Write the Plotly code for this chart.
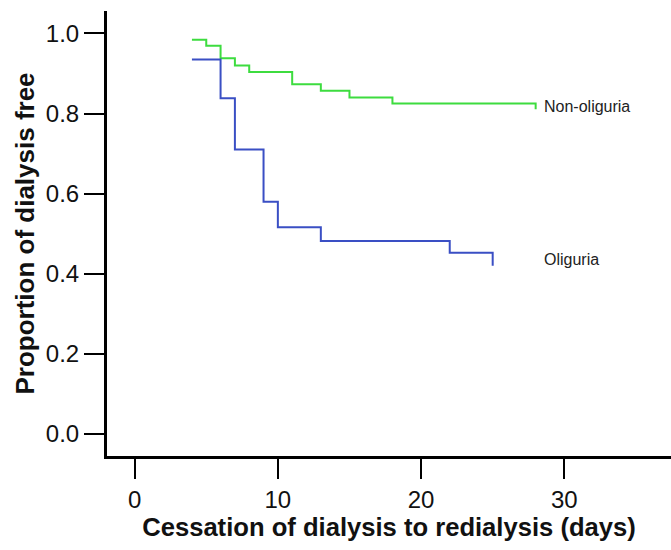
import plotly.graph_objects as go

# Kaplan-Meier step data (days, proportion)
non_oliguria_days = [4, 5, 6, 7, 8, 11, 13, 15, 18, 28]
non_oliguria_prop = [0.984, 0.969, 0.938, 0.92, 0.904, 0.873, 0.857, 0.84, 0.825, 0.811]

oliguria_days = [4, 6, 7, 9, 10, 13, 22, 25]
oliguria_prop = [0.935, 0.838, 0.71, 0.58, 0.516, 0.482, 0.4525, 0.42]

x_ticks = [0, 10, 20, 30]
y_ticks = [0.0, 0.2, 0.4, 0.6, 0.8, 1.0]

FONT = "Liberation Sans, Arial, sans-serif"

fig = go.Figure()
fig.add_trace(go.Scatter(x=non_oliguria_days, y=non_oliguria_prop, mode="lines",
                         line=dict(shape="hv", color="#3ddc3f", width=2), showlegend=False))
fig.add_trace(go.Scatter(x=oliguria_days, y=oliguria_prop, mode="lines",
                         line=dict(shape="hv", color="#3a4fc4", width=2), showlegend=False))

fig.add_annotation(x=28.45, y=0.818, text="Non-oliguria", showarrow=False, xanchor="left",
                   font=dict(family=FONT, size=16, color="#222"))
fig.add_annotation(x=28.45, y=0.435, text="Oliguria", showarrow=False, xanchor="left",
                   font=dict(family=FONT, size=16, color="#222"))

fig.update_layout(
    width=671, height=550,
    margin=dict(l=107, r=0, t=11, b=94),
    plot_bgcolor="white", paper_bgcolor="white",
    font=dict(family=FONT, color="#111"),
)
fig.update_xaxes(range=[-1.93, 37.45], tickvals=x_ticks, ticktext=[str(v) for v in x_ticks],
                 showline=True, linecolor="black", linewidth=3, ticks="outside", ticklen=20,
                 tickwidth=1.5, tickcolor="black", showgrid=False, zeroline=False,
                 automargin=False,
                 tickfont=dict(size=24, family=FONT, color="#111"),
                 title=dict(text="<b>Cessation of dialysis to redialysis (days)</b>",
                            font=dict(size=25.6, family=FONT, color="#111"), standoff=5))
fig.update_yaxes(range=[-0.055, 1.056], tickvals=y_ticks, ticktext=[f"{v:.1f}" for v in y_ticks],
                 showline=True, linecolor="black", linewidth=3, ticks="outside", ticklen=20,
                 tickwidth=1.5, tickcolor="black", showgrid=False, zeroline=False,
                 automargin=False,
                 tickfont=dict(size=24, family=FONT, color="#111"),
                 title=dict(text="<b>Proportion of dialysis free</b>",
                            font=dict(size=26, family=FONT, color="#111"), standoff=4))

fig.write_html("out.html", config={"displayModeBar": False},
               post_script="document.body.style.margin='0';document.body.style.overflow='hidden';")
